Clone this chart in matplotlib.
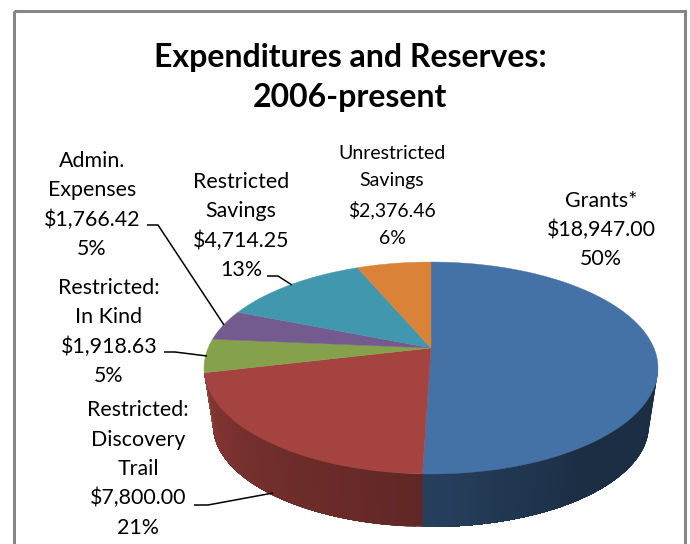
import numpy as np
import matplotlib
matplotlib.use('Agg')
from matplotlib import pyplot as plt
from matplotlib.patches import Rectangle

plt.rcParams['font.family'] = ['Lato', 'DejaVu Sans']

# Clockwise from 12 o'clock
names = ['Grants*', 'Restricted:\nDiscovery\nTrail', 'Restricted:\nIn Kind',
         'Admin.\nExpenses', 'Restricted\nSavings', 'Unrestricted\nSavings']
amounts = [18947.00, 7800.00, 1918.63, 1766.42, 4714.25, 2376.46]
percents = ['50%', '21%', '5%', '5%', '13%', '6%']

colors = ['#4471a6', '#a54340', '#86a14b', '#735a8f', '#4197ae', '#d98238']

# label centres in pixels, same order as above
label_xy = [(601, 230), (138, 469), (109, 332), (92, 205), (241, 226), (392, 196)]
label_size = [15.4, 15.4, 15.4, 15.4, 15.4, 14.0]
label_spacing = [1.57, 1.57, 1.57, 1.57, 1.57, 1.74]

# leader lines (text end, knee, pie end), pixels
leaders = [[(194, 505), (208, 505), (273, 493)],
           [(164, 352), (175, 352), (207, 356)],
           [(147, 225), (158, 225), (224, 325)],
           [(267, 276), (278, 276), (292, 285)]]

# Perspective of the disc: top face and (narrower) bottom face
K = 0.1887
CX = 431


def project(theta, cy, a, b):
    u, v = np.sin(theta), np.cos(theta)
    d = 1 + K * v
    return CX + b * u / d, cy - a * v / d


def top_face(theta):
    return project(theta, 348, 102.2, 222.9)


def bottom_face(theta):
    return project(theta, 406, 98.1, 214.0)


def wall_shade(i, th):
    # darkening of the side wall, hand matched
    deg = np.degrees(th)
    if i == 0:
        return np.interp(deg, [100, 145, 180], [0.40, 0.41, 0.56])
    return np.interp(deg, [180, 225, 259], [0.58, 0.70, 0.84])


fig = plt.figure(figsize=(6.9, 5.44), dpi=100)
ax = fig.add_axes([0, 0, 1, 1])
ax.set_xlim(0, 690)
ax.set_ylim(544, 0)
ax.axis('off')

ax.add_patch(Rectangle((14, 11), 671, 600, fill=False, ec='#868686', lw=2.2))

edges = np.concatenate([[0], np.cumsum(amounts)]) / np.sum(amounts) * 2 * np.pi
vis0 = np.arccos(-K)
vis1 = 2 * np.pi - vis0

# side wall, each strip runs to the end of the slice and the next one paints over it
for i in range(len(amounts)):
    t0, t1 = max(edges[i], vis0), min(edges[i + 1], vis1)
    if t1 <= t0:
        continue
    steps = np.linspace(t0, t1, max(2, int((t1 - t0) * 40)))
    rgb = np.array(matplotlib.colors.to_rgb(colors[i]))
    for a, b in zip(steps[:-1], steps[1:]):
        th = np.linspace(a, t1, 60)
        xt, yt = top_face(th)
        xb, yb = bottom_face(th)
        c = rgb * wall_shade(i, (a + b) / 2)
        ax.fill(np.r_[xt, xb[::-1]], np.r_[yt, yb[::-1]], color=c, lw=0)

# top face
for i in range(len(amounts)):
    th = np.linspace(edges[i], edges[i + 1], 200)
    x, y = top_face(th)
    ax.fill(np.r_[CX, x], np.r_[348, y], color=colors[i], lw=0.3)

for i in range(len(names)):
    s = names[i] + '\n${:,.2f}\n'.format(amounts[i]) + percents[i]
    ax.text(label_xy[i][0], label_xy[i][1], s, ha='center', va='center',
            ma='center', fontsize=label_size[i], color='black',
            linespacing=label_spacing[i])

for line in leaders:
    xs, ys = zip(*line)
    ax.plot(xs, ys, color='black', lw=1.1, solid_capstyle='butt')

ax.text(350, 77.5, 'Expenditures and Reserves:\n2006-present', ha='center',
        va='center', ma='center', fontsize=23, fontweight='bold', linespacing=1.5)

fig.savefig('out.png', dpi=100)
